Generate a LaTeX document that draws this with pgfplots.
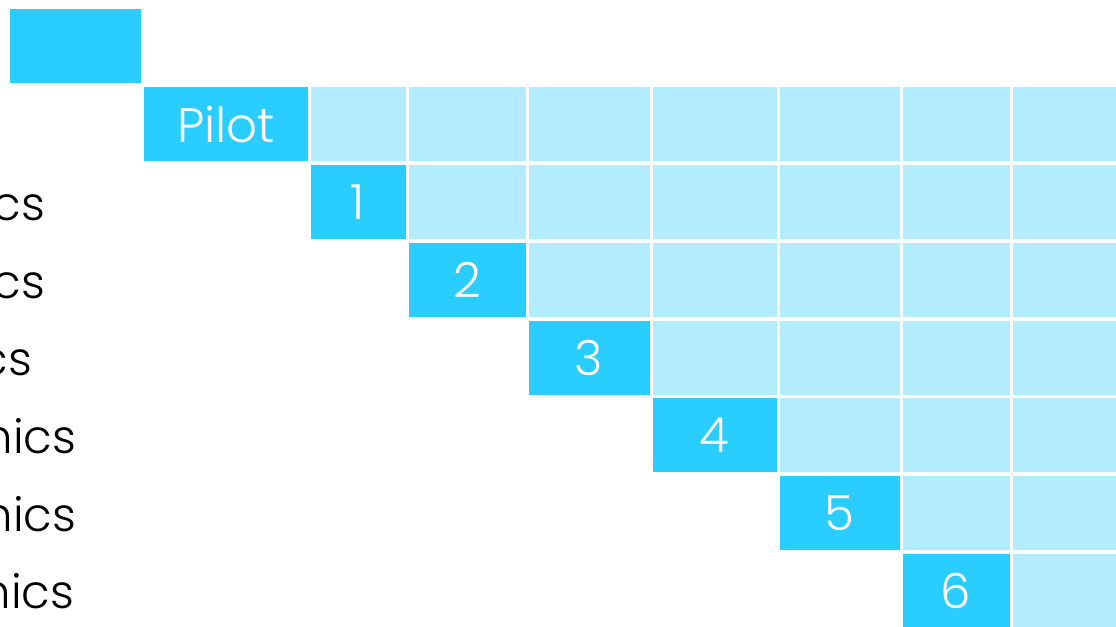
\documentclass[border=0pt]{standalone}
\usepackage{pgfplots}
\pgfplotsset{compat=1.18}
\usepackage{pgfplotstable}
\usepackage{fontspec}
\setmainfont{Poppins}[UprightFont={* Light}]
\definecolor{darkc}{RGB}{41,205,255}
\definecolor{lightc}{RGB}{179,236,255}
\pgfplotstableread{
y off dark la lb lc ld le lf lg
46 8.5 134 0 0 0 0 0 0 0
124 142.5 166.5 98 120.5 123.5 127 123 110 109
202 309 98 120.5 123.5 127 123 110 109 0
280 407 120.5 123.5 127 123 110 109 0 0
357.5 527.5 123.5 127 123 110 109 0 0 0
435 651 127 123 110 109 0 0 0 0
513 778 123 110 109 0 0 0 0 0
590.5 901 110 109 0 0 0 0 0 0
}\celltable
\tikzset{
  inbar/.style={text=white, font=\fontsize{14.5}{17}\selectfont, inner sep=0pt, anchor=center},
  rowlab/.style={text=black, font=\fontsize{14}{16}\selectfont, inner sep=0pt, anchor=base east},
}
\pgfplotsset{frame/.style={
  scale only axis, width=334.8pt, height=187.8pt,
  xmin=0, xmax=1116, ymin=0, ymax=626, y dir=reverse,
  axis lines=none, xtick=\empty, ytick=\empty, clip=true}}
\begin{document}
\begin{tikzpicture}
\begin{axis}[frame, xbar stacked, bar width=77]
\addplot[fill=none, draw=none] table[x=off, y=y]{\celltable};
\addplot[fill=darkc, draw=white, line width=0.9pt] table[x=dark, y=y]{\celltable};
\addplot[fill=lightc, draw=white, line width=0.9pt] table[x=la, y=y]{\celltable};
\addplot[fill=lightc, draw=white, line width=0.9pt] table[x=lb, y=y]{\celltable};
\addplot[fill=lightc, draw=white, line width=0.9pt] table[x=lc, y=y]{\celltable};
\addplot[fill=lightc, draw=white, line width=0.9pt] table[x=ld, y=y]{\celltable};
\addplot[fill=lightc, draw=white, line width=0.9pt] table[x=le, y=y]{\celltable};
\addplot[fill=lightc, draw=white, line width=0.9pt] table[x=lf, y=y]{\celltable};
\addplot[fill=lightc, draw=white, line width=0.9pt] table[x=lg, y=y]{\celltable};
\end{axis}
\begin{axis}[frame]
\node[inbar] at (axis cs:226,124.5) {Pilot};
\node[inbar] at (axis cs:358,202) {1};
\node[inbar] at (axis cs:467,280) {2};
\node[inbar] at (axis cs:589,357.5) {3};
\node[inbar] at (axis cs:714.5,435) {4};
\node[inbar] at (axis cs:839.5,513) {5};
\node[inbar] at (axis cs:956,590.5) {6};
\node[rowlab] at (axis cs:46,220) {Genomics};
\node[rowlab] at (axis cs:46,298) {Proteomics};
\node[rowlab] at (axis cs:33,375.5) {Metabolomics};
\node[rowlab] at (axis cs:77,453) {Mechanics};
\node[rowlab] at (axis cs:77,531) {Electronics};
\node[rowlab] at (axis cs:75,608.5) {Mechatronics};
\end{axis}
\pgfresetboundingbox
\path[use as bounding box] (current axis.south west) rectangle (current axis.north east);
\end{tikzpicture}
\end{document}
